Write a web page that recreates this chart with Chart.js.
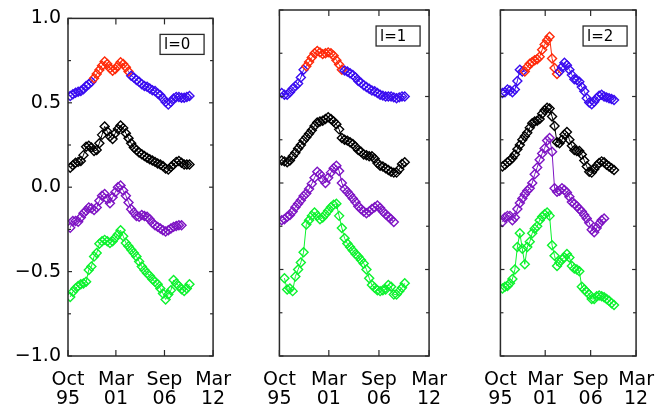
<!DOCTYPE html>
<html>
<head>
<meta charset="utf-8">
<script src="https://cdn.jsdelivr.net/npm/chart.js@4.4.1/dist/chart.umd.min.js"></script>
<style>
  html, body { margin: 0; padding: 0; background: #fff; }
  #wrap { position: relative; width: 669px; height: 407px; overflow: hidden; }
  .panel { position: absolute; top: 0; height: 407px; }
</style>
</head>
<body>
<div id="wrap">
  <div class="panel" style="left:0;width:246px"><canvas id="c0"></canvas></div>
  <div class="panel" style="left:248px;width:214px"><canvas id="c1"></canvas></div>
  <div class="panel" style="left:469px;width:200px"><canvas id="c2"></canvas></div>
</div>
<script>
// sample times (decimal years)
const times = [1996.0, 1996.3, 1996.6, 1996.9, 1997.2, 1997.5, 1997.8, 1998.1, 1998.4, 1998.7,
  1999.0, 1999.3, 1999.6, 1999.9, 2000.2, 2000.5, 2000.8, 2001.1, 2001.4, 2001.7,
  2002.0, 2002.3, 2002.6, 2002.9, 2003.2, 2003.5, 2003.8, 2004.1, 2004.4, 2004.7,
  2005.0, 2005.3, 2005.6, 2005.9, 2006.2, 2006.5, 2006.8, 2007.1, 2007.4, 2007.7,
  2008.0, 2008.3, 2008.6, 2008.9, 2009.2, 2009.5];

// l=0
const top0 = [0.54, 0.55, 0.56, 0.565, 0.57, 0.58, 0.60, 0.61, 0.625, 0.645,
  0.67, 0.695, 0.72, 0.745, 0.73, 0.705, 0.69, 0.70, 0.72, 0.74,
  0.73, 0.71, 0.685, 0.66, 0.65, 0.635, 0.625, 0.61, 0.60, 0.595,
  0.585, 0.575, 0.57, 0.555, 0.545, 0.525, 0.505, 0.49, 0.505, 0.525,
  0.535, 0.535, 0.53, 0.53, 0.535, 0.54];
const black0 = [0.115, 0.13, 0.145, 0.15, 0.155, 0.19, 0.24, 0.245, 0.235, 0.215,
  0.22, 0.26, 0.31, 0.36, 0.33, 0.30, 0.285, 0.32, 0.345, 0.365,
  0.35, 0.32, 0.29, 0.26, 0.235, 0.22, 0.205, 0.195, 0.185, 0.175,
  0.165, 0.158, 0.15, 0.14, 0.135, 0.125, 0.11, 0.105, 0.12, 0.135,
  0.15, 0.155, 0.145, 0.135, 0.135, 0.135];
const purple0 = [-0.24, -0.20, -0.20, -0.205, -0.18, -0.155, -0.14, -0.12, -0.125, -0.135,
  -0.12, -0.08, -0.05, -0.04, -0.07, -0.095, -0.06, -0.03, 0.0, 0.01,
  -0.02, -0.05, -0.09, -0.13, -0.15, -0.17, -0.175, -0.165, -0.17, -0.175,
  -0.19, -0.21, -0.225, -0.235, -0.245, -0.255, -0.262, -0.255, -0.245, -0.235,
  -0.23, -0.225, -0.225, null, null, null];
const green0 = [-0.65, -0.62, -0.60, -0.585, -0.575, -0.57, -0.56, -0.49, -0.47, -0.41,
  -0.39, -0.335, -0.32, -0.312, -0.32, -0.33, -0.32, -0.30, -0.28, -0.255,
  -0.29, -0.33, -0.35, -0.37, -0.39, -0.41, -0.44, -0.47, -0.49, -0.51,
  -0.525, -0.545, -0.56, -0.575, -0.60, -0.63, -0.665, -0.635, -0.61, -0.55,
  -0.57, -0.585, -0.605, -0.615, -0.60, -0.575];

// l=1
const top1 = [0.52, 0.51, 0.51, 0.525, 0.545, 0.56, 0.575, 0.61, 0.655, 0.675,
  0.70, 0.725, 0.75, 0.763, 0.755, 0.745, 0.75, 0.755, 0.75, 0.735,
  0.71, 0.685, 0.655, 0.65, 0.645, 0.635, 0.625, 0.61, 0.59, 0.58,
  0.565, 0.555, 0.545, 0.535, 0.53, 0.52, 0.51, 0.505, 0.50, 0.50,
  0.50, 0.495, 0.49, 0.495, 0.50, 0.50];
const black1 = [0.13, 0.125, 0.12, 0.13, 0.155, 0.175, 0.20, 0.22, 0.245, 0.265,
  0.285, 0.305, 0.33, 0.35, 0.355, 0.36, 0.37, 0.38, 0.37, 0.355,
  0.34, 0.31, 0.26, 0.25, 0.245, 0.235, 0.225, 0.21, 0.19, 0.18,
  0.165, 0.16, 0.155, 0.155, 0.14, 0.115, 0.10, 0.095, 0.085, 0.075,
  0.065, 0.06, 0.06, 0.08, 0.11, 0.12];
const purple1 = [-0.215, -0.21, -0.195, -0.185, -0.165, -0.14, -0.12, -0.10, -0.075, -0.06,
  -0.035, -0.005, 0.03, 0.065, 0.05, 0.02, 0.0, 0.03, 0.06, 0.085,
  0.10, 0.07, 0.0, -0.035, -0.05, -0.07, -0.09, -0.11, -0.135, -0.15,
  -0.165, -0.175, -0.165, -0.15, -0.14, -0.13, -0.145, -0.165, -0.18, -0.195,
  -0.21, -0.225, null, null, null, null];
const green1 = [null, -0.55, -0.615, -0.61, -0.625, -0.54, -0.50, -0.46, -0.40, -0.24,
  -0.215, -0.19, -0.17, -0.19, -0.21, -0.20, -0.18, -0.16, -0.14, -0.125,
  -0.12, -0.19, -0.26, -0.32, -0.35, -0.37, -0.39, -0.41, -0.425, -0.445,
  -0.465, -0.50, -0.55, -0.59, -0.605, -0.62, -0.625, -0.62, -0.615, -0.59,
  -0.60, -0.645, -0.645, -0.625, -0.605, -0.58];

// l=2
const top2 = [0.52, 0.525, 0.54, 0.535, 0.525, 0.54, 0.59, 0.655, 0.645, 0.645,
  0.67, 0.69, 0.70, 0.71, 0.715, 0.73, 0.77, 0.80, 0.825, 0.845,
  0.72, 0.665, 0.63, 0.645, 0.67, 0.695, 0.68, 0.655, 0.625, 0.60,
  0.595, 0.585, 0.555, 0.53, 0.49, 0.465, 0.455, 0.47, 0.49, 0.505,
  0.51, 0.50, 0.495, 0.49, 0.485, 0.48];
const black2 = [0.095, 0.105, 0.12, 0.13, 0.145, 0.165, 0.195, 0.22, 0.25, 0.27,
  0.29, 0.32, 0.345, 0.355, 0.36, 0.37, 0.40, 0.42, 0.435, 0.43,
  0.385, 0.33, 0.235, 0.23, 0.25, 0.28, 0.295, 0.25, 0.215, 0.19,
  0.185, 0.185, 0.165, 0.13, 0.095, 0.065, 0.06, 0.08, 0.10, 0.115,
  0.125, 0.12, 0.105, 0.095, 0.085, 0.075];
const purple2 = [-0.225, -0.20, -0.19, -0.19, -0.215, -0.20, -0.15, -0.115, -0.09, -0.065,
  -0.045, -0.03, 0.0, 0.05, 0.09, 0.135, 0.17, 0.20, 0.245, 0.26,
  0.18, -0.03, -0.05, -0.045, -0.03, -0.04, -0.055, -0.08, -0.11, -0.12,
  -0.135, -0.15, -0.165, -0.185, -0.205, -0.23, -0.27, -0.285, -0.26, -0.235,
  -0.215, -0.205, null, null, null, null];
const green2 = [-0.61, -0.60, -0.595, -0.58, -0.555, -0.50, -0.37, -0.29, -0.38, -0.47,
  -0.37, -0.34, -0.29, -0.265, -0.25, -0.215, -0.195, -0.18, -0.17, -0.19,
  -0.36, -0.42, -0.48, -0.46, -0.44, -0.43, -0.41, -0.43, -0.48, -0.495,
  -0.50, -0.51, -0.60, -0.615, -0.63, -0.645, -0.67, -0.67, -0.655, -0.65,
  -0.655, -0.66, -0.67, -0.68, -0.695, -0.705];

const panelLabels = ["l=0", "l=1", "l=2"];
const maxRange = [1998.5, 2002.8]; // drawn in red on the top curve

const xTickVals = [1995.75, 2001.17, 2006.67, 2012.17];
const xTickLabels = [["Oct", "95"], ["Mar", "01"], ["Sep", "06"], ["Mar", "12"]];
const yTickVals = [-1, -0.5, 0, 0.5, 1];
const yMinorVals = [-0.75, -0.25, 0.25, 0.75];

const blue = "#3a0cf0";
const red = "#ff2a0a";
const purple = "#7e14c4";
const green = "#0cf22e";
const black = "#000000";
const font = "DejaVu Sans";

const pts = vals => vals.map((v, i) => ({ x: times[i], y: v }));
const inMax = t => t >= maxRange[0] && t <= maxRange[1];

function series(vals, color, highlight) {
  const ds = {
    data: pts(vals),
    borderColor: color,
    borderWidth: 1,
    pointStyle: "rectRot",
    pointRadius: 4.5,
    pointBorderWidth: 1.4,
    pointBackgroundColor: "rgba(0,0,0,0)",
    pointBorderColor: color,
    tension: 0,
    fill: false,
    spanGaps: false,
  };
  if (highlight) {
    ds.pointBorderColor = ctx => (ctx.raw && inMax(ctx.raw.x) ? red : color);
    ds.segment = {
      borderColor: c => (inMax(c.p0.parsed.x) && inMax(c.p1.parsed.x) ? red : undefined),
    };
  }
  return ds;
}

// box + inward ticks, IDL style
const frame = {
  id: "frame",
  afterDraw(chart) {
    const { ctx, chartArea: a, scales } = chart;
    const x = scales.x, y = scales.y;
    const seg = (x0, y0, x1, y1) => { ctx.beginPath(); ctx.moveTo(x0, y0); ctx.lineTo(x1, y1); ctx.stroke(); };
    ctx.save();
    ctx.strokeStyle = "#2a2a2a";
    ctx.lineWidth = 1.5;
    ctx.strokeRect(a.left, a.top, a.right - a.left, a.bottom - a.top);
    ctx.lineWidth = 1.2;
    yTickVals.forEach(v => {
      const p = y.getPixelForValue(v);
      seg(a.left, p, a.left + 4, p);
      seg(a.right, p, a.right - 4, p);
    });
    yMinorVals.forEach(v => {
      const p = y.getPixelForValue(v);
      seg(a.left, p, a.left + 3, p);
      seg(a.right, p, a.right - 3, p);
    });
    xTickVals.forEach(v => {
      const p = x.getPixelForValue(v);
      seg(p, a.bottom, p, a.bottom - 6);
      seg(p, a.top, p, a.top + 6);
    });
    // label box
    const bw = 44, bh = 20;
    const bx = a.right - 9 - bw, by = a.top + 16;
    ctx.fillStyle = "#fff";
    ctx.fillRect(bx, by, bw, bh);
    ctx.lineWidth = 1.3;
    ctx.strokeRect(bx, by, bw, bh);
    ctx.fillStyle = "#000";
    ctx.font = "15px '" + font + "'";
    ctx.textAlign = "left";
    ctx.textBaseline = "middle";
    ctx.fillText(chart.options.panelLabel, bx + 4, by + bh / 2 + 1);
    ctx.restore();
  },
};

function makePanel(id, idx, sets, leftW, rightPad) {
  new Chart(document.getElementById(id), {
    type: "line",
    data: {
      datasets: [
        series(sets[0], blue, true),
        series(sets[1], black, false),
        series(sets[2], purple, false),
        series(sets[3], green, false),
      ],
    },
    options: {
      panelLabel: panelLabels[idx],
      responsive: true,
      maintainAspectRatio: false,
      animation: false,
      devicePixelRatio: 1,
      layout: { padding: { top: 10, right: rightPad, left: 0, bottom: 0 } },
      plugins: { legend: { display: false }, tooltip: { enabled: false } },
      scales: {
        x: {
          type: "linear",
          min: xTickVals[0],
          max: xTickVals[xTickVals.length - 1],
          grid: { display: false, drawTicks: false },
          border: { display: false },
          afterBuildTicks: s => { s.ticks = xTickVals.map(v => ({ value: v })); },
          afterFit: s => { s.height = 51; },
          ticks: {
            autoSkip: false,
            maxRotation: 0,
            padding: 15,
            color: "#000",
            font: { family: font, size: 19, lineHeight: 1 },
            callback: (v, i) => xTickLabels[i],
          },
        },
        y: {
          min: -1,
          max: 1,
          grid: { display: false, drawTicks: false },
          border: { display: false },
          afterBuildTicks: s => { s.ticks = yTickVals.map(v => ({ value: v })); },
          afterFit: s => { s.width = leftW; },
          ticks: {
            display: idx === 0,
            padding: 7,
            color: "#000",
            font: { family: font, size: 19 },
            callback: v => v.toFixed(1).replace("-", "\u2212"),
          },
        },
      },
    },
    plugins: [frame],
  });
}

makePanel("c0", 0, [top0, black0, purple0, green0], 68, 22);
makePanel("c1", 1, [top1, black1, purple1, green1], 20, 22);
makePanel("c2", 2, [top2, black2, purple2, green2], 20, 20);
</script>
</body>
</html>
